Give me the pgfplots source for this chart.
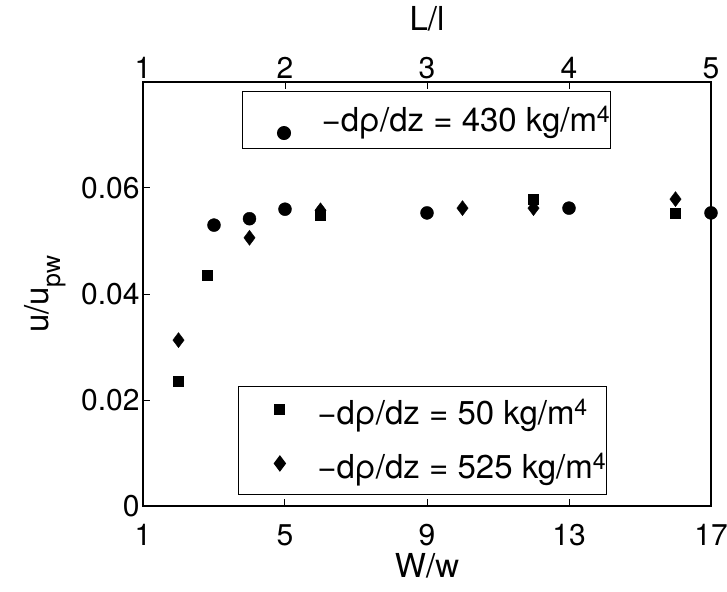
\documentclass[border=0pt]{standalone}
\usepackage{fontspec}
\setmainfont{TeX Gyre Heros}
\usepackage{pgfplots}
\pgfplotsset{compat=1.18}
\begin{document}
\begin{tikzpicture}
\useasboundingbox (-143bp,-86bp) rectangle (584bp,506bp);
\pgfplotsset{
  common/.style={
    width=568bp, height=424bp, scale only axis,
    at={(0,0)}, anchor=south west,
    xmin=1, xmax=17, ymin=0, ymax=0.08,
    clip=false, scaled y ticks=false, scaled x ticks=false,
    tick align=inside, major tick length=7bp,
    every tick/.style={line width=1bp, black},
    axis line style={line width=1.3bp},
    tick label style={font=\fontsize{30bp}{36bp}\selectfont},
    label style={font=\fontsize{33bp}{40bp}\selectfont},
    /pgf/number format/assume math mode=true,
    legend style={draw=black, line width=1bp, inner xsep=0pt, inner ysep=13bp,
      font=\fontsize{33bp}{38bp}\selectfont,
      nodes={inner sep=0pt, text height=27bp, text depth=4bp},
      row sep=23bp, column sep=7bp},
    legend cell align=left,
  }
}
\begin{axis}[common,
  xtick={1,5,9,13,17}, xticklabels={1,5,9,13,17},
  ytick={0,0.02,0.04,0.06}, yticklabels={0,0.02,0.04,0.06},
  xtick pos=left, ytick pos=left,
  xticklabel style={yshift=-15bp},
  xlabel={W/w},
  xlabel style={at={(rel axis cs:0.5,-0.140)}, anchor=center},
  ylabel={u/u\raisebox{-0.35em}{\fontsize{25bp}{30bp}\selectfont pw}},
  ylabel style={at={(rel axis cs:-0.1725,0.5)}, anchor=center},
  legend image code/.code={\path (-41bp,0bp) (30bp,0bp); \draw[#1, overlay] plot coordinates {(0bp,-13bp)};},
  legend style={at={(rel axis cs:0.1743,0.9787)}, anchor=north west}]
\addplot[only marks, mark=*, mark size=6.5bp, black] coordinates {
(3,0.0530) (4,0.0542) (5,0.0560) (9,0.0553) (13,0.0562) (17,0.0553)};
\addlegendentry{−dρ/dz = 430 kg/m\textsuperscript{4}\hspace{5bp}}
\end{axis}
\begin{axis}[common,
  axis x line*=top, hide y axis,
  xtick={1,5,9,13,17}, xticklabels={1,2,3,4,5},
  xlabel={L/l},
  xlabel style={at={(rel axis cs:0.5,1.15)}, anchor=center},
  legend image code/.code={\path (-41bp,0bp) (30bp,0bp); \draw[#1, overlay] plot coordinates {(0bp,4bp)};},
  legend style={at={(rel axis cs:0.167,0.026)}, anchor=south west, inner ysep=11.5bp}]
\addplot[only marks, mark=square*, mark size=5bp, black] coordinates {
(2,0.0236) (2.8,0.0436) (6,0.0549) (12,0.0579) (16,0.0553)};
\addlegendentry{−dρ/dz = 50 kg/m\textsuperscript{4}\hspace{5bp}}
\addplot[only marks, mark=diamond*, mark size=7.5bp, black] coordinates {
(2,0.0313) (4,0.0506) (6,0.0558) (10,0.0562) (12,0.0562) (16,0.0579)};
\addlegendentry{−dρ/dz = 525 kg/m\textsuperscript{4}\hspace{5bp}}
\end{axis}
\end{tikzpicture}
\end{document}
